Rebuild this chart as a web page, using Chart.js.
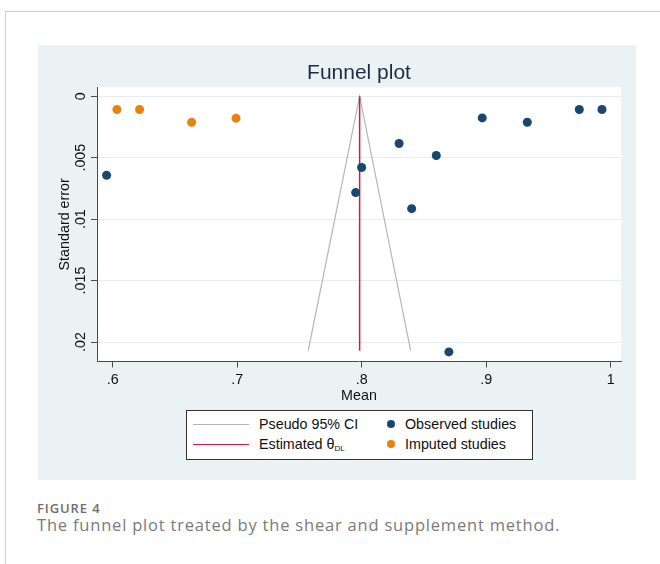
<!DOCTYPE html>
<html>
<head>
<meta charset="utf-8">
<script src="https://cdn.jsdelivr.net/npm/chart.js@4"></script>
<style>
  html, body { margin: 0; padding: 0; background: #fff; width: 660px; height: 564px; overflow: hidden; }
  #card { position: absolute; left: 5px; top: 11px; width: 700px; height: 600px; border-left: 1px solid #cfcfcf; border-top: 1px solid #cfcfcf; }
  #wrap { position: absolute; left: 38px; top: 45px; width: 598px; height: 435px; background: #eaf2f3; }
  canvas { display: block; }
  #legend { position: absolute; left: 186px; top: 410px; width: 345px; height: 48px; background: #fff; border: 1px solid #333; box-sizing: content-box; font-family: "Liberation Sans", Arial, sans-serif; font-size: 14.3px; color: #111; }
  .lg-line { position: absolute; height: 0; border-top: 1px solid; }
  .lg-dot { position: absolute; width: 8px; height: 8px; border-radius: 50%; }
  .lg-text { position: absolute; height: 18px; line-height: 18px; white-space: nowrap; }
  .lg-text sub { font-size: 8px; vertical-align: -2px; line-height: 0; }
  #fig { position: absolute; left: 37px; top: 500px; font-family: "Open Sans", sans-serif; font-weight: 600; font-size: 13px; letter-spacing: 0.9px; color: #6e6e6e; line-height: 16px; }
  #cap { position: absolute; left: 37px; top: 515px; font-family: "Open Sans", sans-serif; font-size: 16.5px; letter-spacing: 0.8px; color: #7a7a7a; line-height: 20px; white-space: nowrap; }
</style>
</head>
<body>
<div id="card"></div>
<div id="wrap"><canvas id="c" width="598" height="435"></canvas></div>
<div id="legend"></div>
<div id="fig">FIGURE 4</div>
<div id="cap">The funnel plot treated by the shear and supplement method.</div>
<script>
// ---- data ----
const observedMean = [0.595, 0.830, 0.7999, 0.7951, 0.8401, 0.8599, 0.8968, 0.9330, 0.9748, 0.9930, 0.870];
const observedSE   = [0.00643, 0.00385, 0.0058, 0.00784, 0.00915, 0.00483, 0.00177, 0.00212, 0.00108, 0.00108, 0.0208];
const imputedMean  = [0.6033, 0.6215, 0.6633, 0.699];
const imputedSE    = [0.00108, 0.00108, 0.00212, 0.00179];
const ciMean       = [0.757, 0.7983, 0.8393];
const ciSE         = [0.0207, 0, 0.0207];
const thetaMean    = [0.7983, 0.7983];
const thetaSE      = [0, 0.0207];
const xTicks       = [0.6, 0.7, 0.8, 0.9, 1.0];
const xTickLabels  = ['.6', '.7', '.8', '.9', '1'];
const yTicks       = [0, 0.005, 0.01, 0.015, 0.02];
const yTickLabels  = ['0', '.005', '.01', '.015', '.02'];
const seriesLabels = ['Observed studies', 'Imputed studies', 'Estimated θ<sub>DL</sub>', 'Pseudo 95% CI'];

const colObs = '#1a476f', colImp = '#e8820e', colTheta = '#c81e45', colCI = '#b5b5b5';
const axisCol = '#4a4a4a';
const pts = (xs, ys) => xs.map((x, i) => ({ x: x, y: ys[i] }));

const whiteArea = {
  id: 'whiteArea',
  beforeDraw(chart) {
    const { ctx, chartArea: a } = chart;
    ctx.save();
    ctx.fillStyle = '#ffffff';
    ctx.fillRect(a.left, a.top, a.right - a.left, a.bottom - a.top);
    ctx.restore();
  }
};

const font = { family: '"Liberation Sans", Arial, sans-serif', size: 14.3 };

new Chart(document.getElementById('c'), {
  type: 'scatter',
  data: {
    datasets: [
      { label: seriesLabels[0], data: pts(observedMean, observedSE), backgroundColor: colObs, borderWidth: 0, pointRadius: 4.5, pointHoverRadius: 4.5 },
      { label: seriesLabels[1], data: pts(imputedMean, imputedSE), backgroundColor: colImp, borderWidth: 0, pointRadius: 4.5, pointHoverRadius: 4.5 },
      { label: seriesLabels[2], data: pts(thetaMean, thetaSE), showLine: true, borderColor: colTheta, borderWidth: 1.5, pointRadius: 0, fill: false },
      { label: seriesLabels[3], data: pts(ciMean, ciSE), showLine: true, borderColor: colCI, borderWidth: 1.2, pointRadius: 0, fill: false }
    ]
  },
  options: {
    responsive: false,
    animation: false,
    devicePixelRatio: 1,
    layout: { padding: { left: 0, right: 15, top: 0, bottom: 75.2 } },
    plugins: {
      legend: { display: false },
      tooltip: { enabled: false },
      title: {
        display: true, text: 'Funnel plot', fullSize: false,
        color: '#1e2b47',
        font: { family: '"Liberation Sans", Arial, sans-serif', size: 21, weight: 'normal' },
        padding: { top: 15.5, bottom: 1.5 }
      }
    },
    scales: {
      x: {
        type: 'linear', min: 0.5873, max: 1.0083,
        afterBuildTicks: s => { s.ticks = xTicks.map(v => ({ value: v })); },
        ticks: { font: font, color: '#111', padding: 4, maxRotation: 0, callback: (v) => xTickLabels[xTicks.findIndex(t => Math.abs(t - v) < 1e-9)] },
        grid: { drawOnChartArea: false, drawTicks: true, tickLength: 6, tickColor: axisCol, tickWidth: 1 },
        border: { color: axisCol, width: 1 },
        title: { display: true, text: 'Mean', font: font, color: '#111', padding: { top: -5, bottom: 0 } }
      },
      y: {
        type: 'linear', reverse: true, min: -0.00073, max: 0.02158,
        afterBuildTicks: s => { s.ticks = yTicks.map(v => ({ value: v })); },
        afterFit: s => { s.width = 59; },
        ticks: { font: font, color: '#111', minRotation: 90, maxRotation: 90, crossAlign: 'center', padding: -4,
                 callback: (v) => yTickLabels[yTicks.findIndex(t => Math.abs(t - v) < 1e-12)] },
        grid: { color: '#e4edf0', lineWidth: 1, drawTicks: true, tickLength: 6, tickColor: axisCol, tickWidth: 1 },
        border: { color: axisCol, width: 1 },
        title: { display: true, text: 'Standard error', font: font, color: '#111', padding: { top: 18, bottom: 0 } }
      }
    }
  },
  plugins: [whiteArea]
});

// HTML legend (needs a subscript), built from the same series styles
const lg = document.getElementById('legend');
const items = [
  { kind: 'line', color: colCI, text: seriesLabels[3], x: 6, y: 13 },
  { kind: 'line', color: colTheta, text: seriesLabels[2], x: 6, y: 33 },
  { kind: 'dot', color: colObs, text: seriesLabels[0], x: 200, y: 13 },
  { kind: 'dot', color: colImp, text: seriesLabels[1], x: 200, y: 33 }
];
items.forEach(it => {
  const m = document.createElement('div');
  if (it.kind === 'line') {
    m.className = 'lg-line';
    m.style.left = it.x + 'px'; m.style.width = '56px'; m.style.top = it.y + 'px'; m.style.borderTopColor = it.color;
  } else {
    m.className = 'lg-dot';
    m.style.left = it.x + 'px'; m.style.top = (it.y - 4) + 'px'; m.style.background = it.color;
  }
  lg.appendChild(m);
  const t = document.createElement('div');
  t.className = 'lg-text';
  t.style.left = (it.kind === 'line' ? 72 : 218) + 'px';
  t.style.top = (it.y - 9) + 'px';
  t.innerHTML = it.text;
  lg.appendChild(t);
});
</script>
</body>
</html>
